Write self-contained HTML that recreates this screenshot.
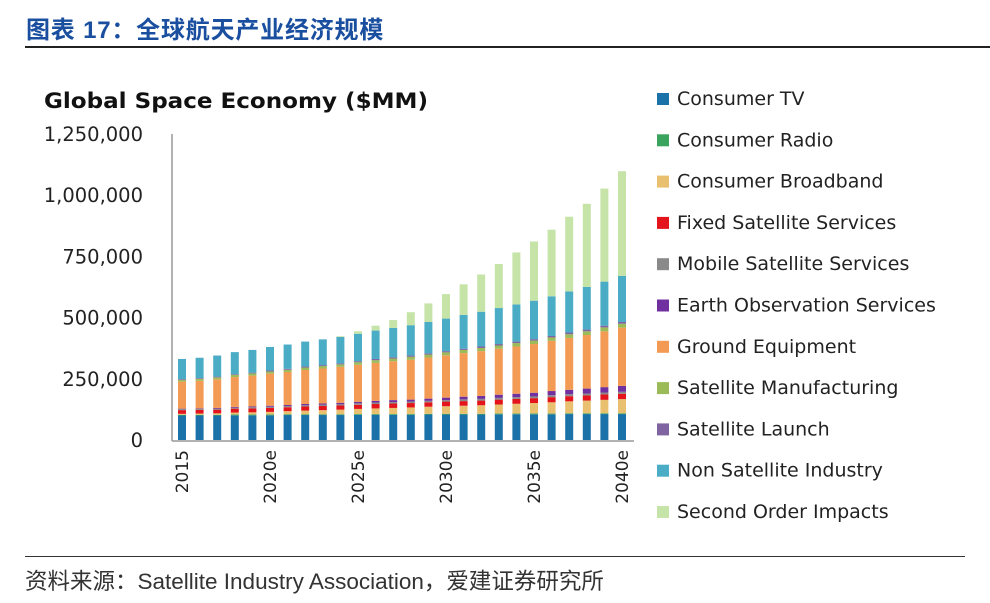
<!DOCTYPE html>
<html><head><meta charset="utf-8">
<style>
html,body{margin:0;padding:0;background:#fff;width:990px;height:603px;overflow:hidden;}
body{position:relative;font-family:"Liberation Sans","Noto Sans CJK SC",sans-serif;}
#title{position:absolute;left:26px;top:10px;font-size:24px;font-weight:bold;color:#1a4fa0;letter-spacing:0.8px;}
#topline{position:absolute;left:25px;top:46px;width:965px;height:2px;background:#222;}
#botline{position:absolute;left:25px;top:556px;width:940px;height:1px;background:#333;}
#source{position:absolute;left:25px;top:564px;font-size:22.5px;color:#333;}
svg{position:absolute;left:0;top:0;}
</style></head><body>
<div id="title">图表 17：全球航天产业经济规模</div>
<div id="topline"></div>
<svg id="chart" width="990" height="603"></svg>
<div id="botline"></div>
<div id="source">资料来源：Satellite Industry Association，爱建证券研究所</div>
<script>
const categories = ["2015","2016","2017","2018","2019","2020e","2021e","2022e","2023e","2024e","2025e","2026e","2027e","2028e","2029e","2030e","2031e","2032e","2033e","2034e","2035e","2036e","2037e","2038e","2039e","2040e"];
const xTickLabels = ["2015","2020e","2025e","2030e","2035e","2040e"];
const yTicks = [0,250000,500000,750000,1000000,1250000];
const yTickLabels = ["0","250,000","500,000","750,000","1,000,000","1,250,000"];
const seriesNames = ["Consumer TV","Consumer Radio","Consumer Broadband","Fixed Satellite Services","Mobile Satellite Services","Earth Observation Services","Ground Equipment","Satellite Manufacturing","Satellite Launch","Non Satellite Industry","Second Order Impacts"];
const seriesColors = ["#1b72a8","#3aa35e","#e8c070","#e3141b","#8a8a8a","#7030a0","#f39b55","#9bbb59","#8064a2","#4bacc6","#c6e3a8"];
const consumerTV = [100,100,100,101,101,101,102,102,102,102,103,103,103,103,104,104,104,104,105,105,105,105,106,106,106,106];
const consumerRadio = [3,3,3,3,3,3,3,3,3,3,3,3,3,3,3,3,3,3,3,3,3,3,3,3,3,3];
const consumerBroadband = [4,5,6,8,9,11,13,15,17,19,21,23,25,27,29,31,33,35,37,40,43,46,49,52,55,58];
const fixedSatellite = [15,15,15,16,16,16,16,17,17,17,17,18,18,18,18,19,19,19,20,20,20,21,21,21,22,22];
const mobileSatellite = [4,4,4,4,5,5,5,5,5,5,6,6,6,6,6,6,7,7,7,7,7,8,8,8,8,8];
const earthObservation = [2,2,3,3,3,4,4,5,5,6,6,7,8,8,9,10,11,12,13,14,15,17,18,20,22,24];
const groundEquipment = [110,113,117,122,126,131,135,139,143,147,151,155,159,163,168,173,178,183,188,193,199,205,212,219,228,238];
const satelliteManufacturing = [8,8,8,9,9,9,9,10,10,10,11,11,11,12,12,12,13,13,13,14,14,14,15,15,16,16];
const satelliteLaunch = [3,3,3,3,3,4,4,4,4,4,4,5,5,5,5,5,5,6,6,6,6,6,7,7,7,7];
const nonSatellite = [82,83,86,90,93,96,99,102,105,108,112,116,120,124,128,133,138,142,147,152,157,162,168,174,180,188];
const secondOrder = [0,0,0,0,0,0,0,0,0,3,10,20,32,53,76,100,125,152,180,212,242,272,305,340,380,428];
const seriesValues = [consumerTV,consumerRadio,consumerBroadband,fixedSatellite,mobileSatellite,earthObservation,groundEquipment,satelliteManufacturing,satelliteLaunch,nonSatellite,secondOrder];

const svg = document.getElementById('chart');
const NS = 'http://www.w3.org/2000/svg';
const FONT = 'DejaVu Sans, Liberation Sans, sans-serif';
const X0 = 182, XSTEP = 17.6, BW = 8, Y0 = 440, YTOP = 134, YMAX = 1250000;
function xPos(i){ return X0 + i*XSTEP; }
function yPos(v){ return Y0 - v/YMAX*(Y0-YTOP); }
function mk(tag, attrs){ const e=document.createElementNS(NS,tag); for(const k in attrs) e.setAttribute(k,attrs[k]); svg.appendChild(e); return e; }

const ct = mk('text',{x:44,y:108,'font-size':21,'font-weight':'bold',fill:'#111','font-family':FONT,textLength:384,lengthAdjust:'spacingAndGlyphs'});
ct.textContent = 'Global Space Economy ($MM)';



yTicks.forEach((t,i)=>{
  const tx = mk('text',{x:143,y:yPos(t)+7,'text-anchor':'end','font-size':19.5,fill:'#222','font-family':FONT});
  tx.textContent = yTickLabels[i];
  
  
});

categories.forEach((c,i)=>{
  let acc = 0;
  seriesValues.forEach((arr,s)=>{
    const v = arr[i]*1000;
    if(v<=0) return;
    const r = mk('rect',{x:xPos(i)-BW/2,y:yPos(acc+v),width:BW,height:yPos(acc)-yPos(acc+v),fill:seriesColors[s]});
    
    
    acc += v;
  });
});

const ya = mk('line',{x1:172,y1:YTOP,x2:172,y2:Y0+1,stroke:'#999','stroke-width':1.5});


const xa = mk('line',{x1:172,y1:Y0+1,x2:634,y2:Y0+1,stroke:'#999','stroke-width':1.5});



xTickLabels.forEach(lbl=>{
  const i = categories.indexOf(lbl);
  const x = xPos(i)+6;
  const tx = mk('text',{x:x,y:450,'text-anchor':'end','font-size':17,fill:'#222','font-family':FONT,transform:`rotate(-90 ${x} 450)`});
  tx.textContent = lbl;
  
  
});

seriesNames.forEach((n,s)=>{
  const y = 99 + s*41.3;
  const sq = mk('rect',{x:657,y:y-6,width:12,height:12,fill:seriesColors[s]});
  
  
  const tx = mk('text',{x:677,y:y+6,'font-size':19,fill:'#222','font-family':FONT});
  tx.textContent = n;
  
  
});
</script>
</body></html>
